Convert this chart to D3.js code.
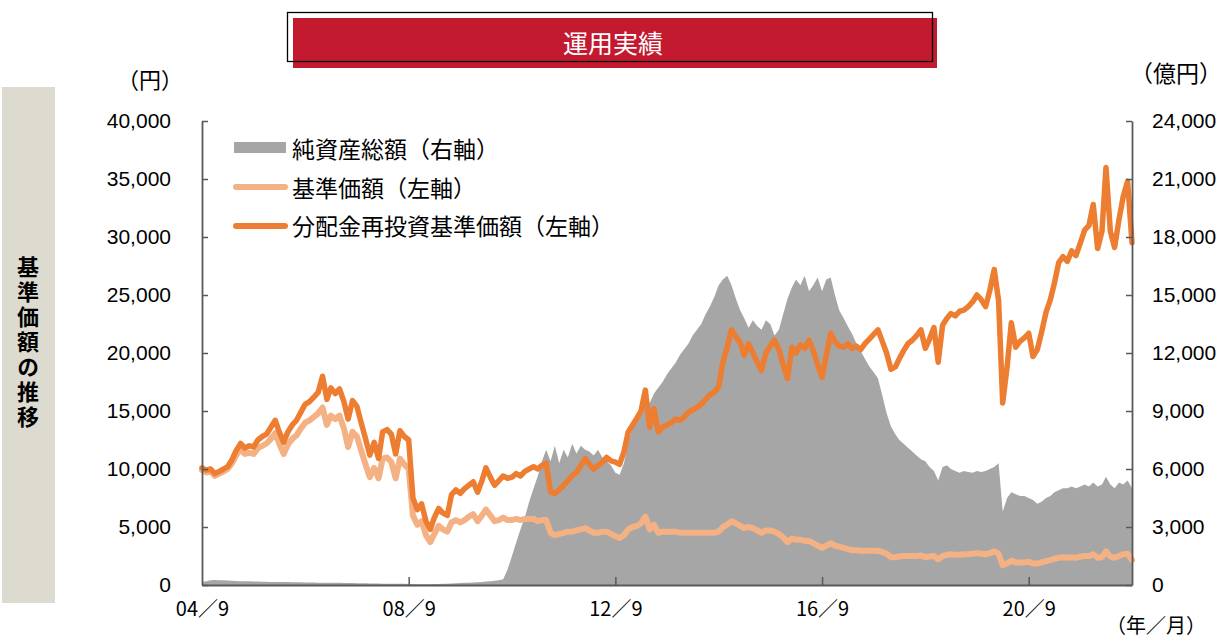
<!DOCTYPE html>
<html>
<head>
<meta charset="utf-8">
<script src="https://cdn.jsdelivr.net/npm/d3@7"></script>
<style>
  body { margin: 0; background: #fff; }
  svg text { font-family: "Noto Sans CJK JP", sans-serif; }
</style>
</head>
<body>
<div class="visual-data"></div>
<script>
const width = 1226;
const height = 641;
const margin = {left: 202, right: 1132, top: 121, bottom: 585};

// monthly data, starting 2004/9
const startMonth = new Date(2004, 8, 1);
// 分配金再投資基準価額 (円)
const reinvested = [
  10100, 9900, 10000, 9600, 9800, 10000, 10200, 10800, 11600, 12200, 11800, 12000,
  11900, 12500, 12800, 13000, 13600, 14200, 13200, 12300, 13200, 13800, 14200, 14900,
  15600, 15800, 16200, 16600, 18000, 16000, 17000, 16500, 16900, 15800, 14300, 15900,
  15400, 14000, 12600, 11200, 12300, 10900, 13200, 13400, 13000, 11300, 13300, 12800,
  12500, 7500, 6500, 7000, 5500, 4800, 5800, 6600, 6200, 6000, 7800, 8200,
  7900, 8300, 8600, 8900, 8000, 9000, 10100, 9300, 8600, 9000, 9400, 9200,
  9300, 9600, 9400, 9800, 10000, 10200, 10000, 10300, 10500, 8000, 7900, 8200,
  8600, 9000, 9400, 9700, 10300, 10900, 10400, 10000, 10300, 10600, 11000, 10700,
  10600, 10400, 11500, 13200, 13800, 14400, 15000, 16800, 13600, 15200, 13200, 13600,
  13800, 14000, 14300, 14200, 14500, 14900, 15100, 15300, 15600, 16000, 16400, 16600,
  17100, 19200, 20500, 22000, 21400, 20900, 19800, 20800, 20000, 19200, 18500, 20000,
  20600, 21100, 20300, 19000, 17800, 20500, 20000, 20700, 20400, 21100, 20200, 19000,
  17900, 19800, 21700, 21000, 20600, 20500, 20800, 20400, 20600, 20300, 20800, 21200,
  21600, 22000, 21000, 20000, 18600, 18800, 19500, 20200, 20800, 21100, 21500, 22000,
  20400, 21200, 22200, 19200, 22400, 23000, 23400, 23200, 23600, 23700, 24000, 24400,
  25000, 24600, 24000, 25400, 27200, 24500, 15700, 18800, 22600, 20500, 21000, 21300,
  21700, 19700, 20300, 21800, 23500, 24600, 26000, 27800, 28300, 27900, 28800, 28400,
  29500, 30600, 31000, 32800, 29000, 30500, 36000, 30500, 29100, 31500, 33500, 34800, 29500
];
// 基準価額 (円)
const navPrice = [
  9900, 9700, 9800, 9400, 9600, 9800, 10000, 10500, 11200, 11700, 11300, 11400,
  11300, 11800, 12000, 12200, 12600, 13100, 12200, 11300, 12100, 12600, 12900, 13500,
  14000, 14200, 14500, 14800, 15300, 13800, 14600, 14300, 14600, 13500, 11900, 13200,
  12800, 11600, 10400, 9300, 10100, 9200, 10900, 11000, 10600, 9200, 10900, 10400,
  10000, 6000, 5200, 5500, 4300, 3700, 4400, 5100, 4800, 4600, 5400, 5600,
  5400, 5600, 5900, 6100, 5500, 6000, 6500, 6000, 5500, 5600, 5800, 5600,
  5600, 5700, 5600, 5700, 5700, 5700, 5500, 5600, 5600, 4500, 4300, 4400,
  4500, 4600, 4600, 4700, 4800, 4900, 4700, 4500, 4500, 4600, 4600, 4400,
  4200, 4050, 4300, 4800, 5000, 5100, 5300, 5900, 4800, 5200, 4500, 4600,
  4600, 4600, 4600, 4500, 4500, 4500, 4500, 4500, 4500, 4500, 4500, 4500,
  4600, 5000, 5200, 5500, 5300, 5100, 4900, 5000, 4900, 4700, 4500, 4700,
  4700, 4600, 4400, 4100, 3700, 4000, 3900, 3900, 3800, 3800, 3600, 3400,
  3200, 3400, 3600, 3400, 3300, 3200, 3100, 3000, 3000, 2950, 2950, 2950,
  2950, 2950, 2850, 2700, 2400, 2400, 2450, 2500, 2500, 2500, 2500, 2550,
  2400, 2450, 2500, 2200, 2500, 2600, 2650, 2600, 2600, 2650, 2650, 2700,
  2750, 2700, 2650, 2750, 2900, 2700, 1700, 1850, 2100, 1950, 1950, 1950,
  2000, 1850, 1850, 1950, 2050, 2150, 2250, 2350, 2400, 2350, 2400, 2350,
  2450, 2500, 2500, 2650, 2350, 2400, 2900, 2450, 2350, 2500, 2650, 2700, 2150
];
// 純資産総額 (億円)
const netAssets = [
  150, 200, 250, 260, 250, 240, 230, 220, 210, 200, 200, 190,
  180, 180, 170, 170, 160, 160, 150, 150, 150, 140, 140, 140,
  130, 130, 130, 120, 120, 120, 110, 110, 110, 100, 100, 100,
  90, 90, 90, 80, 80, 80, 70, 70, 70, 60, 60, 60,
  50, 50, 40, 40, 40, 40, 50, 50, 60, 70, 80, 90,
  100, 110, 120, 130, 140, 160, 180, 200, 220, 250, 300, 800,
  1500, 2200, 2900, 3500, 4300, 5000, 5600, 6400, 7000, 6400, 7200, 6300,
  7000, 6600, 7300, 6800, 7200, 7000, 6900, 6700, 7000, 6600, 6400, 6200,
  5800, 5700, 6300, 7400, 8200, 8700, 9200, 9800, 9400, 9900, 10200, 10500,
  10900, 11200, 11500, 11900, 12200, 12500, 12900, 13200, 13500, 14000, 14400, 14900,
  15500, 15800, 16000, 15500, 14800, 14200, 13800, 13300, 13700, 13400, 13200, 13700,
  13500, 12900, 13200, 14000, 14800, 15400, 15800, 15500, 16000, 15200, 15500, 15900,
  15200, 15800, 15900, 15000, 14200, 13800, 13400, 13000, 12500, 12100, 11700, 11300,
  11000, 10700, 9800, 8900, 8200, 7800, 7500, 7300, 7100, 6900, 6700, 6500,
  6400, 6100, 5900, 5400, 6100, 6200, 6000, 5900, 5800, 5900, 5850, 5800,
  5900, 5850, 5900, 6000, 6100, 6300, 3800, 4500, 4800, 4700, 4600, 4600,
  4500, 4400, 4200, 4300, 4500, 4600, 4800, 4900, 5000, 5000, 5100, 5000,
  5100, 5200, 5100, 5300, 5100, 5200, 5600, 5200, 5000, 5300, 5200, 5400, 5000
];
const leftTicks = [0, 5000, 10000, 15000, 20000, 25000, 30000, 35000, 40000];
const rightTicks = [0, 3000, 6000, 9000, 12000, 15000, 18000, 21000, 24000];
const xTickDates = [new Date(2004, 8, 1), new Date(2008, 8, 1), new Date(2012, 8, 1), new Date(2016, 8, 1), new Date(2020, 8, 1)];
const legendLabels = ["純資産総額（右軸）", "基準価額（左軸）", "分配金再投資基準価額（左軸）"];

const colGray = "#A6A6A6";
const colLight = "#F4B183";
const colDark = "#ED7D31";
const axisCol = "#595959";

const rows = reinvested.map((v, i) => ({
  date: d3.timeMonth.offset(startMonth, i),
  re: v,
  nav: navPrice[i],
  na: netAssets[i]
}));

const svg = d3.select(".visual-data")
  .append("svg")
  .attr("width", width)
  .attr("height", height)
  .style("display", "block");

// left panel
svg.append("rect")
  .attr("x", 2).attr("y", 87).attr("width", 53).attr("height", 516)
  .attr("fill", "#DDDBD0");
svg.append("text")
  .attr("x", 28)
  .attr("y", 256)
  .style("writing-mode", "vertical-rl")
  .style("font-size", "22px")
  .style("font-weight", "bold")
  .style("letter-spacing", "3px")
  .attr("fill", "#000")
  .text("基準価額の推移");

// title box
svg.append("rect")
  .attr("x", 293).attr("y", 18).attr("width", 644).attr("height", 50)
  .attr("fill", "#C41A30");
svg.append("rect")
  .attr("x", 287.5).attr("y", 12.5).attr("width", 645).attr("height", 49)
  .attr("fill", "none").attr("stroke", "#000").attr("stroke-width", 1.3);
svg.append("text")
  .attr("x", 613).attr("y", 42)
  .attr("text-anchor", "middle")
  .attr("dominant-baseline", "central")
  .style("font-size", "25px")
  .attr("fill", "#fff")
  .text("運用実績");

// scales
const xScale = d3.scaleTime()
  .domain([startMonth, d3.timeMonth.offset(startMonth, reinvested.length - 1)])
  .range([margin.left, margin.right]);
const yLeft = d3.scaleLinear().domain([0, 40000]).range([margin.bottom, margin.top]);
const yRight = d3.scaleLinear().domain([0, 24000]).range([margin.bottom, margin.top]);

// net assets area
svg.append("path")
  .datum(rows)
  .attr("fill", colGray)
  .attr("d", d3.area()
    .x(d => xScale(d.date))
    .y0(yRight(0))
    .y1(d => yRight(d.na)));

// lines
svg.append("path")
  .datum(rows)
  .attr("fill", "none")
  .attr("stroke", colLight)
  .attr("stroke-width", 6)
  .attr("stroke-linejoin", "round")
  .attr("stroke-linecap", "round")
  .attr("d", d3.line().x(d => xScale(d.date)).y(d => yLeft(d.nav)));
svg.append("path")
  .datum(rows)
  .attr("fill", "none")
  .attr("stroke", colDark)
  .attr("stroke-width", 5.5)
  .attr("stroke-linejoin", "round")
  .attr("stroke-linecap", "round")
  .attr("d", d3.line().x(d => xScale(d.date)).y(d => yLeft(d.re)));

// axes
const fmt = d3.format(",");
const fmtYear = d3.timeFormat("%y");
const gLeft = svg.append("g")
  .attr("transform", "translate(" + margin.left + ",0)")
  .call(d3.axisLeft(yLeft).tickValues(leftTicks).tickFormat(fmt).tickSizeInner(-6).tickSizeOuter(0).tickPadding(31));
const gRight = svg.append("g")
  .attr("transform", "translate(" + margin.right + ",0)")
  .call(d3.axisRight(yRight).tickValues(rightTicks).tickFormat(fmt).tickSizeInner(-6).tickSizeOuter(0).tickPadding(20));
const gBottom = svg.append("g")
  .attr("transform", "translate(0," + margin.bottom + ")")
  .call(d3.axisBottom(xScale).tickValues(xTickDates)
    .tickFormat(d => fmtYear(d) + "／" + (d.getMonth() + 1))
    .tickSizeInner(-8).tickSizeOuter(0).tickPadding(17));

[gLeft, gRight, gBottom].forEach(g => {
  g.select(".domain").attr("stroke", axisCol).attr("stroke-width", 1.8);
  g.selectAll(".tick line").attr("stroke", axisCol).attr("stroke-width", 1.5);
  g.selectAll(".tick text").attr("fill", "#000").style("font-size", "21px");
});
gLeft.selectAll(".tick text").style("font-family", "'Liberation Sans', Arial, sans-serif");
gRight.selectAll(".tick text").style("font-family", "'Liberation Sans', Arial, sans-serif");
gBottom.selectAll(".tick text").style("font-family", "'Noto Sans CJK JP', sans-serif").style("font-size", "20px");
// first x tick sits on the y axis
gBottom.selectAll(".tick line").filter((d, i) => i === 0).remove();

// unit labels
svg.append("text").attr("x", 150).attr("y", 78)
  .attr("text-anchor", "middle").attr("dominant-baseline", "central")
  .style("font-size", "22px").text("（円）");
svg.append("text").attr("x", 1176).attr("y", 72)
  .attr("text-anchor", "middle").attr("dominant-baseline", "central")
  .style("font-size", "23px").text("（億円）");
svg.append("text").attr("x", 1156).attr("y", 624)
  .attr("text-anchor", "middle").attr("dominant-baseline", "central")
  .style("font-size", "20px").text("（年／月）");

// legend
const legend = svg.append("g");
legend.append("rect")
  .attr("x", 234).attr("y", 142).attr("width", 52).attr("height", 11)
  .attr("fill", colGray);
legend.append("line")
  .attr("x1", 236).attr("x2", 285).attr("y1", 187).attr("y2", 187)
  .attr("stroke", colLight).attr("stroke-width", 6).attr("stroke-linecap", "round");
legend.append("line")
  .attr("x1", 236).attr("x2", 285).attr("y1", 226).attr("y2", 226)
  .attr("stroke", colDark).attr("stroke-width", 6).attr("stroke-linecap", "round");
legend.selectAll("text")
  .data(legendLabels)
  .enter()
  .append("text")
  .attr("x", 292)
  .attr("y", (d, i) => 148 + i * 38.5)
  .attr("dominant-baseline", "central")
  .style("font-size", "23px")
  .attr("fill", "#000")
  .text(d => d);
</script>
</body>
</html>
